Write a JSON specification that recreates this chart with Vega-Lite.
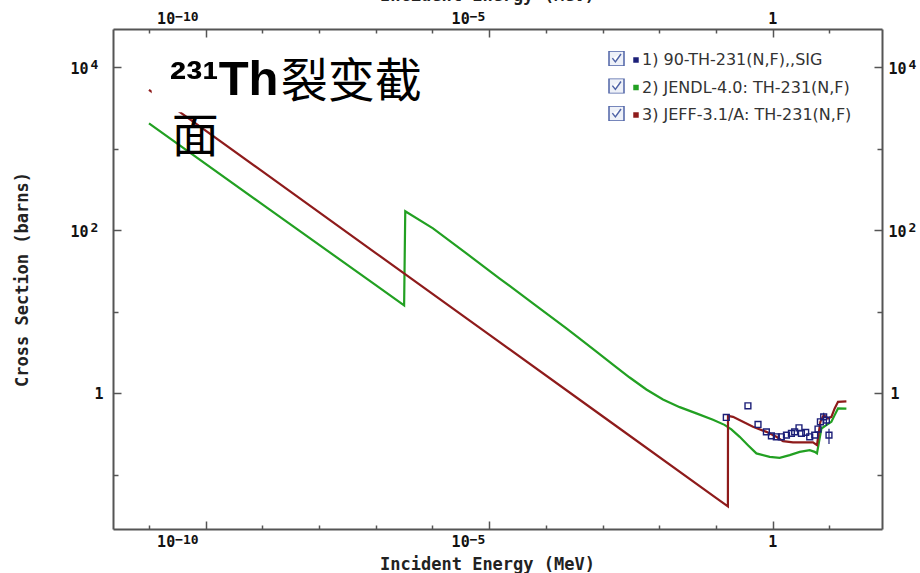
{
  "$schema": "https://vega.github.io/schema/vega-lite/v6.json",
  "width": 769,
  "height": 500,
  "autosize": "none",
  "padding": {"left": 113, "top": 29, "right": 38, "bottom": 44},
  "background": "white",
  "datasets": {
    "curves": [
      {"series": "2) JENDL-4.0: TH-231(N,F)", "E": 1e-11, "xs": 2037},
      {"series": "2) JENDL-4.0: TH-231(N,F)", "E": 1e-9, "xs": 207.6},
      {"series": "2) JENDL-4.0: TH-231(N,F)", "E": 1e-7, "xs": 21.2},
      {"series": "2) JENDL-4.0: TH-231(N,F)", "E": 3.16e-7, "xs": 12.0},
      {"series": "2) JENDL-4.0: TH-231(N,F)", "E": 3.31e-7, "xs": 170.6},
      {"series": "2) JENDL-4.0: TH-231(N,F)", "E": 1.021e-6, "xs": 105.2},
      {"series": "2) JENDL-4.0: TH-231(N,F)", "E": 3.963e-6, "xs": 52.0},
      {"series": "2) JENDL-4.0: TH-231(N,F)", "E": 1.531e-5, "xs": 25.6},
      {"series": "2) JENDL-4.0: TH-231(N,F)", "E": 5.916e-5, "xs": 12.7},
      {"series": "2) JENDL-4.0: TH-231(N,F)", "E": 2.301e-4, "xs": 6.27},
      {"series": "2) JENDL-4.0: TH-231(N,F)", "E": 3.945e-4, "xs": 4.68},
      {"series": "2) JENDL-4.0: TH-231(N,F)", "E": 7.78e-4, "xs": 3.25},
      {"series": "2) JENDL-4.0: TH-231(N,F)", "E": 1.524e-3, "xs": 2.25},
      {"series": "2) JENDL-4.0: TH-231(N,F)", "E": 3.006e-3, "xs": 1.567},
      {"series": "2) JENDL-4.0: TH-231(N,F)", "E": 5.916e-3, "xs": 1.117},
      {"series": "2) JENDL-4.0: TH-231(N,F)", "E": 0.01161, "xs": 0.841},
      {"series": "2) JENDL-4.0: TH-231(N,F)", "E": 0.02291, "xs": 0.679},
      {"series": "2) JENDL-4.0: TH-231(N,F)", "E": 0.04508, "xs": 0.569},
      {"series": "2) JENDL-4.0: TH-231(N,F)", "E": 0.08851, "xs": 0.476},
      {"series": "2) JENDL-4.0: TH-231(N,F)", "E": 0.1413, "xs": 0.412},
      {"series": "2) JENDL-4.0: TH-231(N,F)", "E": 0.1866, "xs": 0.362},
      {"series": "2) JENDL-4.0: TH-231(N,F)", "E": 0.2618, "xs": 0.294},
      {"series": "2) JENDL-4.0: TH-231(N,F)", "E": 0.3664, "xs": 0.232},
      {"series": "2) JENDL-4.0: TH-231(N,F)", "E": 0.5164, "xs": 0.184},
      {"series": "2) JENDL-4.0: TH-231(N,F)", "E": 0.885, "xs": 0.167},
      {"series": "2) JENDL-4.0: TH-231(N,F)", "E": 1.327, "xs": 0.1626},
      {"series": "2) JENDL-4.0: TH-231(N,F)", "E": 1.995, "xs": 0.1754},
      {"series": "2) JENDL-4.0: TH-231(N,F)", "E": 2.992, "xs": 0.1923},
      {"series": "2) JENDL-4.0: TH-231(N,F)", "E": 4.498, "xs": 0.2018},
      {"series": "2) JENDL-4.0: TH-231(N,F)", "E": 5.508, "xs": 0.1923},
      {"series": "2) JENDL-4.0: TH-231(N,F)", "E": 6.039, "xs": 0.184},
      {"series": "2) JENDL-4.0: TH-231(N,F)", "E": 7.228, "xs": 0.372},
      {"series": "2) JENDL-4.0: TH-231(N,F)", "E": 8.851, "xs": 0.409},
      {"series": "2) JENDL-4.0: TH-231(N,F)", "E": 10.84, "xs": 0.449},
      {"series": "2) JENDL-4.0: TH-231(N,F)", "E": 12.39, "xs": 0.542},
      {"series": "2) JENDL-4.0: TH-231(N,F)", "E": 14.19, "xs": 0.655},
      {"series": "2) JENDL-4.0: TH-231(N,F)", "E": 19.95, "xs": 0.650},
      {"series": "3) JEFF-3.1/A: TH-231(N,F)", "E": 1e-11, "xs": 5248},
      {"series": "3) JEFF-3.1/A: TH-231(N,F)", "E": 1e-9, "xs": 525},
      {"series": "3) JEFF-3.1/A: TH-231(N,F)", "E": 1e-7, "xs": 52.5},
      {"series": "3) JEFF-3.1/A: TH-231(N,F)", "E": 1e-5, "xs": 5.25},
      {"series": "3) JEFF-3.1/A: TH-231(N,F)", "E": 1e-3, "xs": 0.525},
      {"series": "3) JEFF-3.1/A: TH-231(N,F)", "E": 0.1, "xs": 0.0525},
      {"series": "3) JEFF-3.1/A: TH-231(N,F)", "E": 0.1622, "xs": 0.0412},
      {"series": "3) JEFF-3.1/A: TH-231(N,F)", "E": 0.1629, "xs": 0.531},
      {"series": "3) JEFF-3.1/A: TH-231(N,F)", "E": 0.1995, "xs": 0.516},
      {"series": "3) JEFF-3.1/A: TH-231(N,F)", "E": 0.2992, "xs": 0.449},
      {"series": "3) JEFF-3.1/A: TH-231(N,F)", "E": 0.4498, "xs": 0.390},
      {"series": "3) JEFF-3.1/A: TH-231(N,F)", "E": 0.7745, "xs": 0.338},
      {"series": "3) JEFF-3.1/A: TH-231(N,F)", "E": 1.161, "xs": 0.294},
      {"series": "3) JEFF-3.1/A: TH-231(N,F)", "E": 1.521, "xs": 0.260},
      {"series": "3) JEFF-3.1/A: TH-231(N,F)", "E": 2.280, "xs": 0.251},
      {"series": "3) JEFF-3.1/A: TH-231(N,F)", "E": 5.140, "xs": 0.251},
      {"series": "3) JEFF-3.1/A: TH-231(N,F)", "E": 6.039, "xs": 0.232},
      {"series": "3) JEFF-3.1/A: TH-231(N,F)", "E": 6.934, "xs": 0.449},
      {"series": "3) JEFF-3.1/A: TH-231(N,F)", "E": 7.925, "xs": 0.542},
      {"series": "3) JEFF-3.1/A: TH-231(N,F)", "E": 9.441, "xs": 0.494},
      {"series": "3) JEFF-3.1/A: TH-231(N,F)", "E": 10.84, "xs": 0.516},
      {"series": "3) JEFF-3.1/A: TH-231(N,F)", "E": 12.39, "xs": 0.655},
      {"series": "3) JEFF-3.1/A: TH-231(N,F)", "E": 14.19, "xs": 0.789},
      {"series": "3) JEFF-3.1/A: TH-231(N,F)", "E": 19.95, "xs": 0.800}
    ],
    "measured": [
      {"series": "1) 90-TH-231(N,F),,SIG", "E": 0.152, "xs": 0.508},
      {"series": "1) 90-TH-231(N,F),,SIG", "E": 0.366, "xs": 0.705},
      {"series": "1) 90-TH-231(N,F),,SIG", "E": 0.551, "xs": 0.417},
      {"series": "1) 90-TH-231(N,F),,SIG", "E": 0.774, "xs": 0.338},
      {"series": "1) 90-TH-231(N,F),,SIG", "E": 0.949, "xs": 0.302},
      {"series": "1) 90-TH-231(N,F),,SIG", "E": 1.16, "xs": 0.294},
      {"series": "1) 90-TH-231(N,F),,SIG", "E": 1.42, "xs": 0.294},
      {"series": "1) 90-TH-231(N,F),,SIG", "E": 1.75, "xs": 0.308},
      {"series": "1) 90-TH-231(N,F),,SIG", "E": 2.14, "xs": 0.324},
      {"series": "1) 90-TH-231(N,F),,SIG", "E": 2.44, "xs": 0.338},
      {"series": "1) 90-TH-231(N,F),,SIG", "E": 2.91, "xs": 0.379},
      {"series": "1) 90-TH-231(N,F),,SIG", "E": 3.21, "xs": 0.324},
      {"series": "1) 90-TH-231(N,F),,SIG", "E": 3.82, "xs": 0.333},
      {"series": "1) 90-TH-231(N,F),,SIG", "E": 4.50, "xs": 0.294},
      {"series": "1) 90-TH-231(N,F),,SIG", "E": 5.51, "xs": 0.308},
      {"series": "1) 90-TH-231(N,F),,SIG", "E": 6.30, "xs": 0.366},
      {"series": "1) 90-TH-231(N,F),,SIG", "E": 6.94, "xs": 0.449},
      {"series": "1) 90-TH-231(N,F),,SIG", "E": 7.93, "xs": 0.516, "lo": 0.45, "hi": 0.58},
      {"series": "1) 90-TH-231(N,F),,SIG", "E": 8.85, "xs": 0.471, "lo": 0.40, "hi": 0.55},
      {"series": "1) 90-TH-231(N,F),,SIG", "E": 9.84, "xs": 0.308, "lo": 0.24, "hi": 0.37}
    ],
    "boxes": [{"chk": "a"}, {"chk": "b"}, {"chk": "c"}]
  },
  "layer": [
    {
      "data": {"name": "curves"},
      "mark": {"type": "line", "strokeWidth": 2.2, "interpolate": "linear"},
      "encoding": {
        "x": {
          "field": "E", "type": "quantitative",
          "scale": {"type": "log", "domain": [2.32e-12, 84.7], "nice": false},
          "axis": {
            "orient": "bottom",
            "values": [1e-11, 1e-10, 1e-9, 1e-8, 1e-7, 1e-6, 1e-5, 1e-4, 1e-3, 1e-2, 1e-1, 1, 10],
            "labelExpr": "round(log(datum.value)/LN10) == -10 || round(log(datum.value)/LN10) == -5 ? '10' : round(log(datum.value)/LN10) == 0 ? '1' : ''",
            "labelAlign": "right",
            "labelOffset": {"condition": [{"test": "round(log(datum.value)/LN10) == -10", "value": -31}, {"test": "round(log(datum.value)/LN10) == -5", "value": -20}], "value": 4},
            "labelBaseline": "alphabetic",
            "labelPadding": 25,
            "labelFontSize": 15,
            "labelFlush": false,
            "labelOverlap": false,
            "tickSize": {"condition": {"test": "round(log(datum.value)/LN10) % 5 == 0", "value": -8}, "value": -4},
            "title": "Incident Energy (MeV)",
            "titleBaseline": "top",
            "titleX": 374,
            "titleY": 27
          }
        },
        "y": {
          "field": "xs", "type": "quantitative",
          "scale": {"type": "log", "domain": [0.0218, 29240], "nice": false},
          "axis": {
            "orient": "left",
            "values": [0.1, 1, 10, 100, 1000, 10000],
            "labelExpr": "round(log(datum.value)/LN10) == 4 || round(log(datum.value)/LN10) == 2 ? '10' : round(log(datum.value)/LN10) == 0 ? '1' : ''",
            "labelPadding": {"condition": {"test": "round(log(datum.value)/LN10) == 0", "value": 18}, "value": 33},
            "labelOffset": {"condition": {"test": "round(log(datum.value)/LN10) == 0", "value": 0}, "value": 1},
            "labelFontSize": 15,
            "labelFlush": false,
            "labelOverlap": false,
            "tickSize": {"condition": {"test": "round(log(datum.value)/LN10) % 2 == 0", "value": -8}, "value": -5},
            "title": "Cross Section (barns)",
            "titlePadding": 38
          }
        },
        "color": {
          "field": "series", "type": "nominal",
          "scale": {
            "domain": ["1) 90-TH-231(N,F),,SIG", "2) JENDL-4.0: TH-231(N,F)", "3) JEFF-3.1/A: TH-231(N,F)"],
            "range": ["#1c1f78", "#22a022", "#8e1b1b"]
          },
          "legend": {
            "orient": "none",
            "legendX": 515,
            "legendY": 23,
            "title": null,
            "padding": 0,
            "symbolType": "square",
            "symbolSize": 30,
            "clipHeight": 16,
            "rowPadding": 11.5,
            "labelOffset": -2,
            "labelFont": "DejaVu Sans",
            "labelFontSize": 16,
            "labelFontWeight": "normal",
            "labelColor": "#333333",
            "labelLimit": 400,
            "encode": {
              "symbols": {
                "update": {
                  "fill": {"scale": "color", "field": "value"},
                  "stroke": {"scale": "color", "field": "value"},
                  "strokeWidth": {"value": 0},
                  "opacity": {"value": 1}
                }
              }
            }
          }
        }
      }
    },
    {
      "data": {"name": "measured"},
      "mark": {"type": "point", "shape": "square", "filled": false, "size": 34, "strokeWidth": 1.4, "opacity": 1},
      "encoding": {
        "x": {
          "field": "E", "type": "quantitative",
          "scale": {"type": "log"},
          "axis": {
            "orient": "top",
            "values": [1e-11, 1e-10, 1e-9, 1e-8, 1e-7, 1e-6, 1e-5, 1e-4, 1e-3, 1e-2, 1e-1, 1, 10],
            "labelExpr": "round(log(datum.value)/LN10) == -10 || round(log(datum.value)/LN10) == -5 ? '10' : round(log(datum.value)/LN10) == 0 ? '1' : ''",
            "labelAlign": "right",
            "labelOffset": {"condition": [{"test": "round(log(datum.value)/LN10) == -10", "value": -31}, {"test": "round(log(datum.value)/LN10) == -5", "value": -20}], "value": 4},
            "labelBaseline": "alphabetic",
            "labelPadding": 14,
            "labelFontSize": 15,
            "labelFlush": false,
            "labelOverlap": false,
            "tickSize": {"condition": {"test": "round(log(datum.value)/LN10) % 5 == 0", "value": -8}, "value": -4},
            "title": "Incident Energy (MeV)",
            "titleX": 374,
            "titlePadding": 3
          }
        },
        "y": {
          "field": "xs", "type": "quantitative",
          "scale": {"type": "log"},
          "axis": {
            "orient": "right",
            "values": [0.1, 1, 10, 100, 1000, 10000],
            "labelExpr": "round(log(datum.value)/LN10) == 4 || round(log(datum.value)/LN10) == 2 ? '10' : round(log(datum.value)/LN10) == 0 ? '1' : ''",
            "labelAlign": "left",
            "labelPadding": {"condition": {"test": "round(log(datum.value)/LN10) == 0", "value": 16}, "value": 14},
            "labelOffset": {"condition": {"test": "round(log(datum.value)/LN10) == 0", "value": 0}, "value": 1},
            "labelFontSize": 15,
            "labelFlush": false,
            "labelOverlap": false,
            "tickSize": {"condition": {"test": "round(log(datum.value)/LN10) % 2 == 0", "value": -8}, "value": -5},
            "title": null
          }
        },
        "color": {"field": "series", "type": "nominal", "legend": null}
      }
    },
    {
      "data": {"name": "measured"},
      "transform": [{"filter": "isValid(datum.lo)"}],
      "mark": {"type": "rule", "strokeWidth": 1.2, "color": "#1c1f78"},
      "encoding": {
        "x": {"field": "E", "type": "quantitative", "scale": {"type": "log"}, "axis": null},
        "y": {"field": "lo", "type": "quantitative", "scale": {"type": "log"}, "axis": null},
        "y2": {"field": "hi"}
      }
    },
    {
      "data": {"name": "boxes"},
      "transform": [{"filter": "false"}],
      "mark": {"type": "point", "filled": true, "fill": "#eef1f8", "stroke": "#4f63a6", "strokeWidth": 1.5, "opacity": 1},
      "encoding": {
        "shape": {
          "field": "chk", "type": "nominal",
          "scale": {
            "domain": ["a", "b", "c"],
            "range": [
              "M-1,-1H1V1H-1Z M-0.55,-0.05L-0.15,0.45L0.6,-0.6",
              "M-1,-1H1V1H-1Z M-0.55,-0.05L-0.15,0.45L0.6,-0.6",
              "M-1,-1H1V1H-1Z M-0.55,-0.05L-0.15,0.45L0.6,-0.6"
            ]
          },
          "legend": {
            "orient": "none",
            "legendX": 495,
            "legendY": 22,
            "title": null,
            "padding": 0,
            "symbolSize": 225,
            "clipHeight": 15,
            "rowPadding": 12.5,
            "labelExpr": "''",
            "encode": {
              "symbols": {
                "update": {
                  "fill": {"value": "#e9edf6"},
                  "stroke": {"value": "#4a5fa3"},
                  "strokeWidth": {"value": 1.5},
                  "opacity": {"value": 1}
                }
              }
            }
          }
        }
      }
    },
    {
      "data": {"values": [{}]},
      "mark": {"type": "rect", "color": "white"},
      "encoding": {
        "x": {
          "datum": 1.117e-11, "type": "quantitative", "scale": {"type": "log"},
          "axis": {
            "orient": "bottom",
            "values": [1e-10, 1e-5],
            "labelExpr": "round(log(datum.value)/LN10) == -10 ? '−10' : round(log(datum.value)/LN10) == -5 ? '−5' : ''",
            "labelAlign": "left",
            "labelOffset": {"condition": {"test": "round(log(datum.value)/LN10) == -10", "value": -31}, "value": -20},
            "labelBaseline": "alphabetic",
            "labelPadding": 14,
            "labelFontSize": 13,
            "labelFlush": false,
            "labelOverlap": false,
            "domain": false,
            "ticks": false,
            "tickSize": 0,
            "title": null
          }
        },
        "x2": {"datum": 8.9e-7},
        "y": {
          "datum": 2800, "type": "quantitative", "scale": {"type": "log"},
          "axis": {
            "orient": "left",
            "values": [100, 10000],
            "labelExpr": "round(log(datum.value)/LN10) == 4 ? '4' : round(log(datum.value)/LN10) == 2 ? '2' : ''",
            "labelAlign": "left",
            "labelBaseline": "alphabetic",
            "labelOffset": 1,
            "labelPadding": 23,
            "labelFontSize": 13,
            "labelFlush": false,
            "labelOverlap": false,
            "domain": false,
            "ticks": false,
            "tickSize": 0,
            "title": null
          }
        },
        "y2": {"datum": 21380}
      }
    },
    {
      "data": {"values": [{}]},
      "mark": {"type": "text", "text": "²³¹Th", "font": "Liberation Sans", "fontWeight": "bold", "fontSize": 49, "align": "left", "baseline": "alphabetic", "color": "black"},
      "encoding": {
        "x": {
          "datum": 2.32e-11, "type": "quantitative", "scale": {"type": "log"},
          "axis": {
            "orient": "top",
            "values": [1e-10, 1e-5],
            "labelExpr": "round(log(datum.value)/LN10) == -10 ? '−10' : round(log(datum.value)/LN10) == -5 ? '−5' : ''",
            "labelAlign": "left",
            "labelOffset": {"condition": {"test": "round(log(datum.value)/LN10) == -10", "value": -31}, "value": -20},
            "labelBaseline": "alphabetic",
            "labelPadding": 9,
            "labelFontSize": 13,
            "labelFlush": false,
            "labelOverlap": false,
            "domain": false,
            "ticks": false,
            "tickSize": 0,
            "title": null
          }
        },
        "y": {
          "datum": 4529, "type": "quantitative", "scale": {"type": "log"},
          "axis": {
            "orient": "right",
            "values": [100, 10000],
            "labelExpr": "round(log(datum.value)/LN10) == 4 ? '4' : round(log(datum.value)/LN10) == 2 ? '2' : ''",
            "labelAlign": "left",
            "labelBaseline": "alphabetic",
            "labelOffset": 1,
            "labelPadding": 26,
            "labelFontSize": 13,
            "labelFlush": false,
            "labelOverlap": false,
            "domain": false,
            "ticks": false,
            "tickSize": 0,
            "title": null
          }
        }
      }
    },
    {
      "data": {"values": [{}]},
      "mark": {"type": "text", "text": "裂变截", "font": "Noto Sans CJK SC", "fontWeight": "normal", "fontSize": 47, "align": "left", "baseline": "alphabetic", "color": "black"},
      "encoding": {
        "x": {"datum": 2.1e-9, "type": "quantitative", "scale": {"type": "log"}, "axis": null},
        "y": {"datum": 4276, "type": "quantitative", "scale": {"type": "log"}, "axis": null}
      }
    },
    {
      "data": {"values": [{}]},
      "mark": {"type": "text", "text": "面", "font": "Noto Sans CJK SC", "fontWeight": "normal", "fontSize": 47, "align": "left", "baseline": "alphabetic", "color": "black"},
      "encoding": {
        "x": {"datum": 2.51e-11, "type": "quantitative", "scale": {"type": "log"}, "axis": null},
        "y": {"datum": 906, "type": "quantitative", "scale": {"type": "log"}, "axis": null}
      }
    }
  ],
  "resolve": {"axis": {"x": "independent", "y": "independent"}},
  "config": {
    "view": {"stroke": null},
    "axis": {
      "grid": false,
      "domainColor": "#555555",
      "domainWidth": 2,
      "tickColor": "#555555",
      "tickWidth": 1.5,
      "labelFont": "DejaVu Sans Mono",
      "labelFontWeight": "bold",
      "labelFontSize": 14,
      "labelColor": "#111111",
      "titleFont": "DejaVu Sans Mono",
      "titleFontSize": 17,
      "titleFontWeight": "bold",
      "titleColor": "#222222"
    }
  }
}
